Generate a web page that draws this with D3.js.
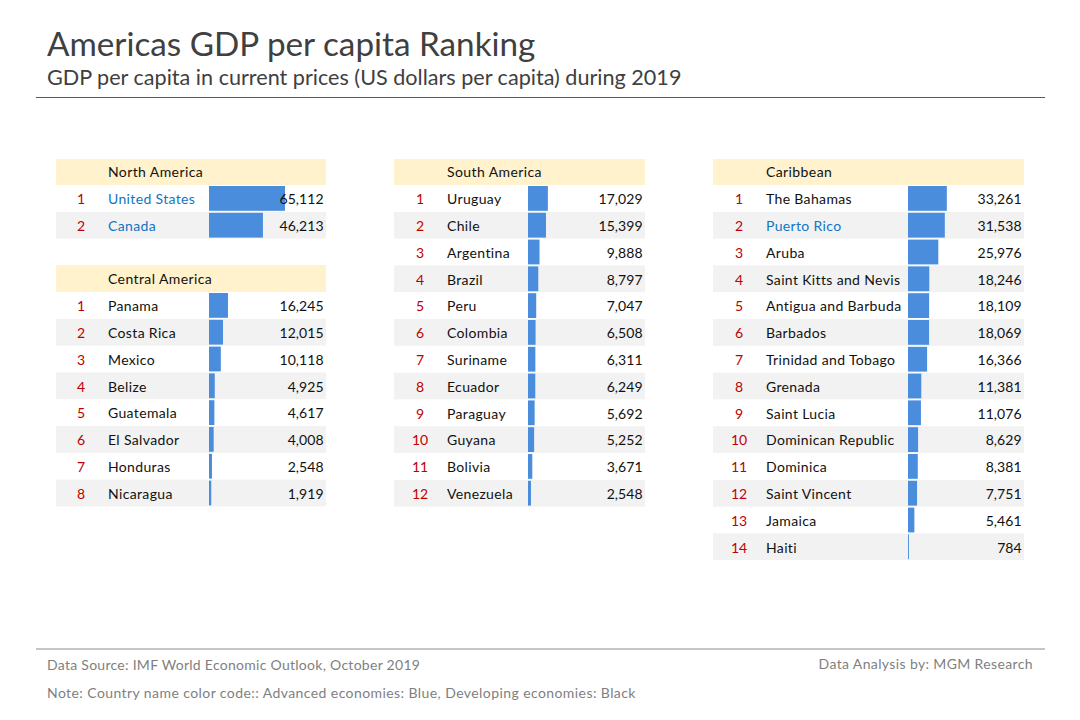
<!DOCTYPE html>
<html>
<head>
<meta charset="utf-8">
<script src="https://d3js.org/d3.v7.min.js"></script>
<style>
  html, body { margin: 0; padding: 0; background: #fff; }
  text { font-family: Lato, "Open Sans", sans-serif; }
</style>
</head>
<body>
<div id="d3"></div>
<script>
const northNames = ["United States", "Canada"];
const northValues = [65112, 46213];

const centralNames = ["Panama", "Costa Rica", "Mexico", "Belize", "Guatemala", "El Salvador", "Honduras", "Nicaragua"];
const centralValues = [16245, 12015, 10118, 4925, 4617, 4008, 2548, 1919];

const southNames = ["Uruguay", "Chile", "Argentina", "Brazil", "Peru", "Colombia", "Suriname", "Ecuador", "Paraguay", "Guyana", "Bolivia", "Venezuela"];
const southValues = [17029, 15399, 9888, 8797, 7047, 6508, 6311, 6249, 5692, 5252, 3671, 2548];

const caribbeanNames = ["The Bahamas", "Puerto Rico", "Aruba", "Saint Kitts and Nevis", "Antigua and Barbuda", "Barbados", "Trinidad and Tobago", "Grenada", "Saint Lucia", "Dominican Republic", "Dominica", "Saint Vincent", "Jamaica", "Haiti"];
const caribbeanValues = [33261, 31538, 25976, 18246, 18109, 18069, 16366, 11381, 11076, 8629, 8381, 7751, 5461, 784];

const advanced = ["United States", "Canada", "Puerto Rico"];

const width = 1080;
const height = 720;
const rowH = 26.8;

const chart = d3.select("#d3").append("svg")
  .attr("width", width)
  .attr("height", height)
  .style("display", "block");

// same value scale for all tables
const barWidth = d3.scaleLinear().domain([0, 65112]).range([0, 76]);
const fmt = d3.format(",");

function table(title, names, values, o) {
  const g = chart.append("g");
  const y = d3.scaleBand()
    .domain(names)
    .range([o.top + o.headH, o.top + o.headH + rowH * names.length]);

  g.append("rect")
    .attr("x", o.left)
    .attr("y", o.top)
    .attr("width", o.right - o.left)
    .attr("height", o.headH)
    .attr("fill", "#fff2cc");

  g.append("text")
    .attr("x", o.name)
    .attr("y", o.top + o.headH - 8)
    .attr("font-size", 14)
    .attr("letter-spacing", 0.4)
    .attr("fill", "#111")
    .text(title);

  const row = g.selectAll("g.row")
    .data(names)
    .enter()
    .append("g")
    .attr("class", "row")
    .attr("transform", d => `translate(0, ${y(d)})`);

  row.filter((d, i) => i % 2 === 1)
    .append("rect")
    .attr("x", o.left)
    .attr("width", o.right - o.left)
    .attr("height", y.bandwidth())
    .attr("fill", "#f2f2f2");

  row.append("rect")
    .attr("x", o.bar)
    .attr("y", 1)
    .attr("width", (d, i) => barWidth(values[i]))
    .attr("height", y.bandwidth() - 2)
    .attr("fill", "#4a8ddc");

  row.append("text")
    .attr("x", o.rank)
    .attr("y", 19.2)
    .attr("text-anchor", "middle")
    .attr("font-size", 14)
    .attr("fill", "#c00000")
    .text((d, i) => i + 1);

  row.append("text")
    .attr("x", o.name)
    .attr("y", 19.2)
    .attr("font-size", 14)
    .attr("letter-spacing", 0.35)
    .attr("fill", d => advanced.includes(d) ? "#0f75c4" : "#111")
    .text(d => d);

  row.append("text")
    .attr("x", o.right - 2.2)
    .attr("y", 19.2)
    .attr("text-anchor", "end")
    .attr("font-size", 14)
    .attr("letter-spacing", 0.1)
    .attr("fill", "#111")
    .text((d, i) => fmt(values[i]));
}

table("North America", northNames, northValues, { left: 56, right: 326, top: 159, headH: 26, rank: 81, name: 108, bar: 209 });
table("Central America", centralNames, centralValues, { left: 56, right: 326, top: 265, headH: 27, rank: 81, name: 108, bar: 209 });
table("South America", southNames, southValues, { left: 394, right: 645, top: 159, headH: 26, rank: 420, name: 447, bar: 528 });
table("Caribbean", caribbeanNames, caribbeanValues, { left: 713, right: 1024, top: 159, headH: 26, rank: 739, name: 766, bar: 908 });

// title block
chart.append("text")
  .attr("x", 47)
  .attr("y", 55.5)
  .attr("font-size", 33.25)
  .attr("fill", "#404040")
  .text("Americas GDP per capita Ranking");

chart.append("text")
  .attr("x", 47)
  .attr("y", 85)
  .attr("font-size", 21.6)
  .attr("fill", "#404040")
  .text("GDP per capita in current prices (US dollars per capita) during 2019");

chart.append("line")
  .attr("x1", 36).attr("x2", 1045)
  .attr("y1", 97.5).attr("y2", 97.5)
  .attr("stroke", "#595959");

// footer
chart.append("line")
  .attr("x1", 36).attr("x2", 1045)
  .attr("y1", 649).attr("y2", 649)
  .attr("stroke", "#8c8c8c")
  .attr("stroke-width", 1.2);

chart.append("text")
  .attr("x", 47)
  .attr("y", 670)
  .attr("font-size", 14)
  .attr("letter-spacing", 0.28)
  .attr("fill", "#7f7f7f")
  .text("Data Source: IMF World Economic Outlook, October 2019");

chart.append("text")
  .attr("x", 1033)
  .attr("y", 669)
  .attr("text-anchor", "end")
  .attr("font-size", 14)
  .attr("letter-spacing", 0.37)
  .attr("fill", "#7f7f7f")
  .text("Data Analysis by: MGM Research");

chart.append("text")
  .attr("x", 47)
  .attr("y", 698)
  .attr("font-size", 14)
  .attr("letter-spacing", 0.42)
  .attr("fill", "#7f7f7f")
  .text("Note: Country name color code:: Advanced economies: Blue, Developing economies: Black");
</script>
</body>
</html>
